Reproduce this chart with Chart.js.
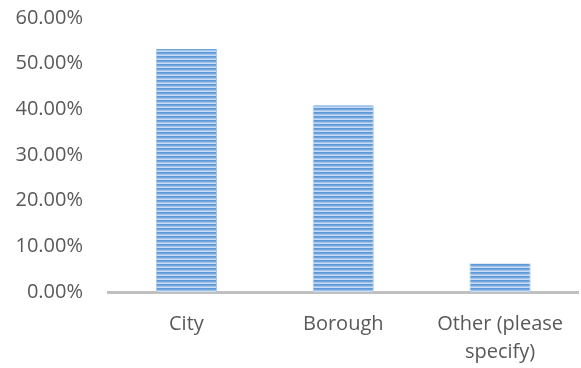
<!DOCTYPE html>
<html>
<head>
<meta charset="utf-8">
<script src="https://cdn.jsdelivr.net/npm/chart.js@4/dist/chart.umd.min.js"></script>
<style>
  html, body { margin: 0; padding: 0; background: #fff; }
  #wrap { width: 581px; height: 368px; position: relative; }
</style>
</head>
<body>
<div id="wrap"><canvas id="chart" width="581" height="368"></canvas></div>
<script>
'use strict';

var categories = ['City', 'Borough', ['Other (please', 'specify)']];
var shares = [53.2, 40.9, 6.3];
var yTicks = [0, 10, 20, 30, 40, 50, 60];

// narrow horizontal stripes, like the office "pattern fill"
function stripes(ctx) {
    var tile = document.createElement('canvas');
    tile.width = 4;
    tile.height = 4;
    var t = tile.getContext('2d');
    var rows = ['#5f98d7', '#6fa4dc', '#a3c5eb', '#c6dbf2'];
    rows.forEach(function (c, i) {
        t.fillStyle = c;
        t.fillRect(0, i, 4, 1);
    });
    return ctx.createPattern(tile, 'repeat');
}

var ctx = document.getElementById('chart').getContext('2d');
var font = { family: 'Open Sans, Lato, sans-serif', size: 20, lineHeight: 1.4 };

new Chart(ctx, {
    type: 'bar',
    data: {
        labels: categories,
        datasets: [{
            data: shares,
            backgroundColor: stripes(ctx),
            borderColor: '#a7c8ec',
            borderWidth: { left: 1, right: 1, top: 0, bottom: 0 },
            borderSkipped: false,
            categoryPercentage: 1,
            barPercentage: 0.39
        }]
    },
    options: {
        responsive: false,
        animation: false,
        layout: { padding: { top: 18, right: 0, left: 0, bottom: 0 } },
        plugins: { legend: { display: false }, tooltip: { enabled: false } },
        scales: {
            x: {
                grid: { display: false, drawTicks: false },
                border: { color: '#c0c0c0', width: 3 },
                ticks: { color: '#595959', font: font, padding: 18 },
                afterFit: function (s) { s.height = 76; }
            },
            y: {
                min: 0,
                max: 60,
                afterBuildTicks: function (s) {
                    s.ticks = yTicks.map(function (v) { return { value: v }; });
                },
                grid: { display: false, drawTicks: false },
                border: { display: false },
                ticks: {
                    color: '#595959',
                    font: { family: font.family, size: 20 },
                    padding: 25,
                    callback: function (v) { return v.toFixed(2) + '%'; }
                },
                afterFit: function (s) {
                    s.width = 108;
                    s.paddingTop = 0;
                    s.paddingBottom = 0;
                }
            }
        }
    }
});
</script>
</body>
</html>
